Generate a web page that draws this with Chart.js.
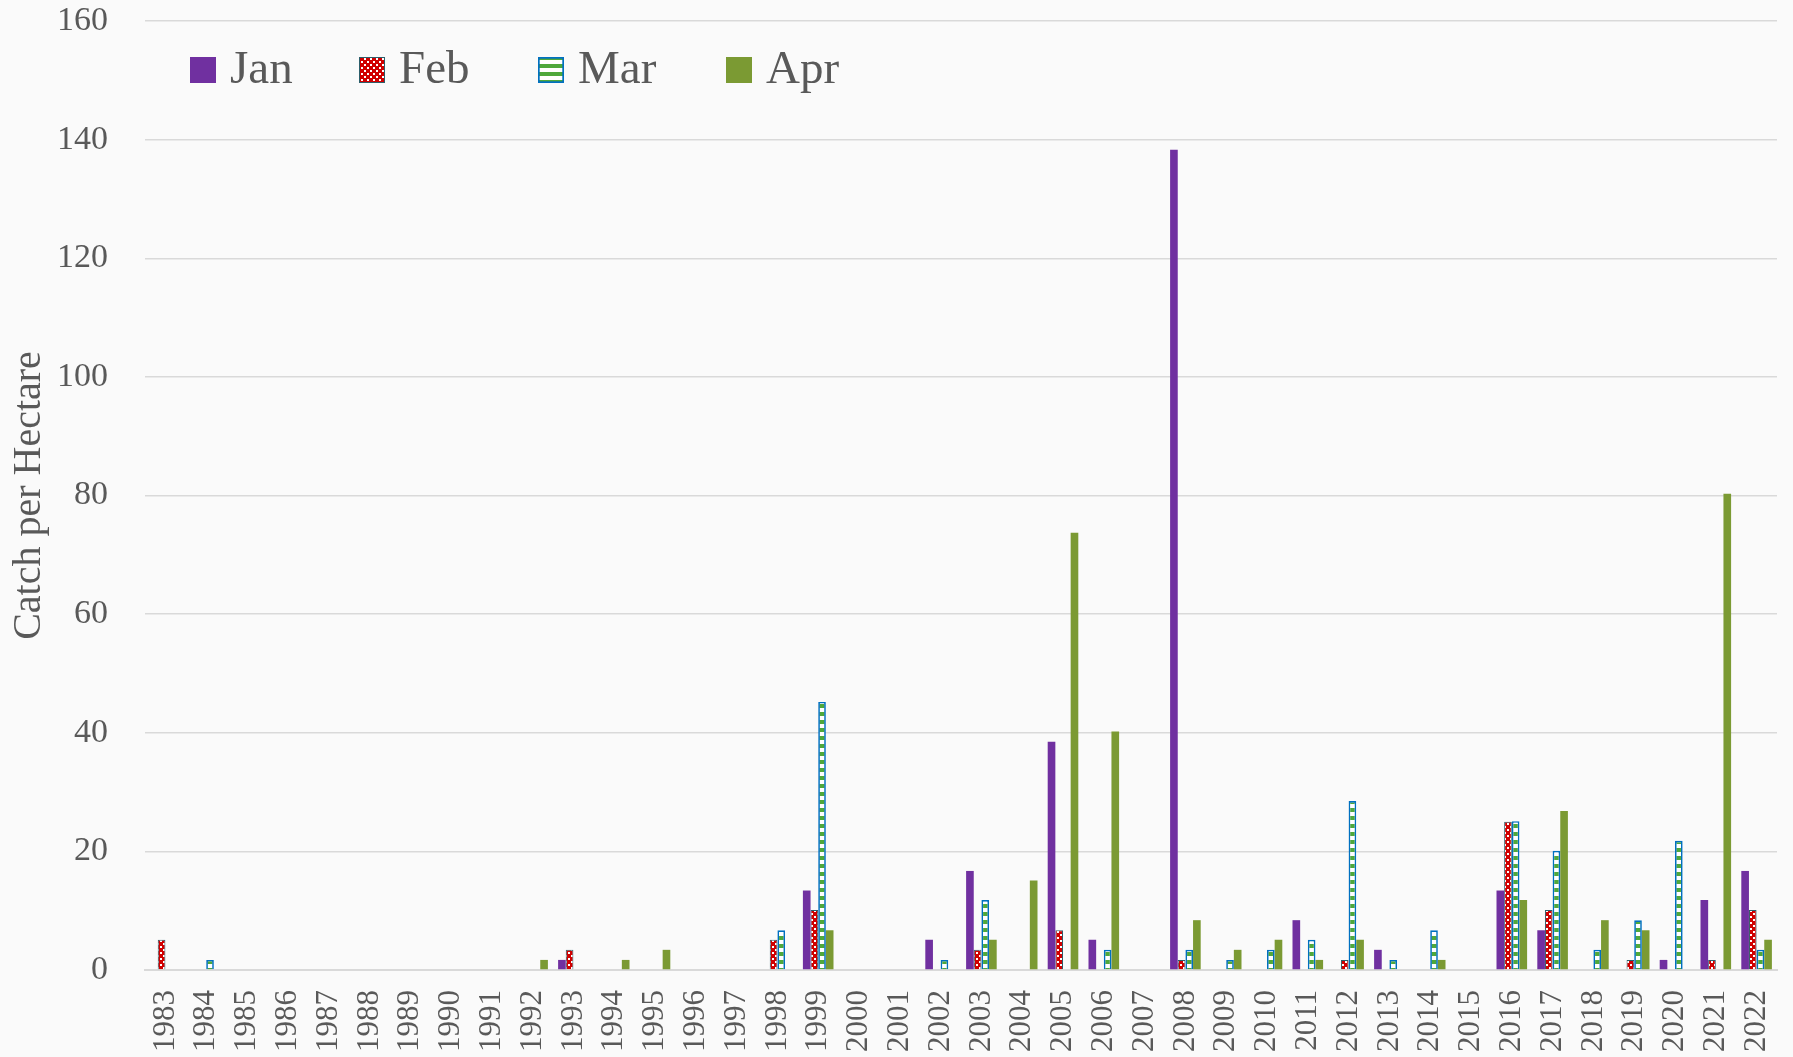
<!DOCTYPE html>
<html>
<head>
<meta charset="utf-8">
<script src="https://cdn.jsdelivr.net/npm/chart.js@4.4.0/dist/chart.umd.min.js"></script>
<style>
  html, body { margin: 0; padding: 0; background: #FAFAFA; }
  #wrap { width: 1793px; height: 1057px; }
</style>
</head>
<body>
<div id="wrap"><canvas id="c" width="1793" height="1057"></canvas></div>
<script>
const years = ['1983','1984','1985','1986','1987','1988','1989','1990','1991','1992',
               '1993','1994','1995','1996','1997','1998','1999','2000','2001','2002',
               '2003','2004','2005','2006','2007','2008','2009','2010','2011','2012',
               '2013','2014','2015','2016','2017','2018','2019','2020','2021','2022'];
const seriesNames = ['Jan', 'Feb', 'Mar', 'Apr'];
//            1983..1992                          1993..2002                              2003..2012                                2013..2022
const jan = [0,0,0,0,0,0,0,0,0,0,       1.7,0,0,0,0,0,13.4,0,0,5.1,     16.7,0,38.5,5.1,0,138.3,0,0,8.4,0,     3.4,0,0,13.4,6.7,0,0,1.7,11.8,16.7];
const feb = [5.1,0,0,0,0,0,0,0,0,0,     3.4,0,0,0,0,5.1,10.1,0,0,0,     3.4,0,6.7,0,0,1.7,0,0,0,1.7,           0,0,0,25.0,10.1,0,1.7,0,1.7,10.1];
const mar = [0,1.7,0,0,0,0,0,0,0,0,     0,0,0,0,0,6.7,45.2,0,0,1.7,     11.8,0,0,3.4,0,3.4,1.7,3.4,5.1,28.5,   1.7,6.7,0,25.1,20.1,3.4,8.4,21.8,0,3.4];
const apr = [0,0,0,0,0,0,0,0,0,1.7,     0,1.7,3.4,0,0,0,6.7,0,0,0,      5.1,15.1,73.7,40.2,0,8.4,3.4,5.1,1.7,5.1, 0,1.7,0,11.8,26.8,8.4,6.7,0,80.3,5.1];
const yTickValues = [0, 20, 40, 60, 80, 100, 120, 140, 160];
const yTitle = 'Catch per Hectare';

const FONT = "'Liberation Serif', 'DejaVu Serif', serif";
const TEXT = '#595959';
const GRID = '#D9D9D9';

const canvas = document.getElementById('c');
const ctx = canvas.getContext('2d');

function febPattern() {
  const t = document.createElement('canvas');
  t.width = 6; t.height = 6;
  const g = t.getContext('2d');
  g.fillStyle = '#D00000'; g.fillRect(0, 0, 6, 6);
  g.fillStyle = '#FFFFFF';
  g.fillRect(1, 1, 2, 2);
  g.fillRect(4, 4, 2, 2);
  return ctx.createPattern(t, 'repeat');
}
function marPattern() {
  const t = document.createElement('canvas');
  t.width = 8; t.height = 8;
  const g = t.getContext('2d');
  g.fillStyle = '#FFFFFF'; g.fillRect(0, 0, 8, 8);
  g.fillStyle = '#4FA83B'; g.fillRect(0, 0, 8, 4);
  return ctx.createPattern(t, 'repeat');
}

const febFill = febPattern();
const marFill = marPattern();

const styles = [
  { backgroundColor: '#7030A0', borderColor: '#7030A0', borderWidth: 0 },
  { backgroundColor: febFill, borderColor: '#2C5E6B', borderWidth: 1 },
  { backgroundColor: marFill, borderColor: '#0070C0', borderWidth: 1.7 },
  { backgroundColor: '#7B9A33', borderColor: '#7B9A33', borderWidth: 0 }
];
const values = [jan, feb, mar, apr];

const legendPlugin = {
  id: 'insideLegend',
  afterDraw(chart) {
    const c = chart.ctx;
    const boxLefts = [190, 359, 538, 726];
    const boxTop = 57, box = 26, baseline = 83;
    c.save();
    c.font = "47px " + FONT;
    c.textBaseline = 'alphabetic';
    c.textAlign = 'left';
    chart.data.datasets.forEach((ds, i) => {
      const x = boxLefts[i];
      c.fillStyle = ds.backgroundColor;
      c.fillRect(x, boxTop, box, box);
      if (ds.borderWidth > 0) {
        c.strokeStyle = ds.borderColor;
        c.lineWidth = ds.borderWidth;
        c.strokeRect(x + ds.borderWidth / 2, boxTop + ds.borderWidth / 2, box - ds.borderWidth, box - ds.borderWidth);
      }
      c.fillStyle = TEXT;
      c.fillText(ds.label, x + 40, baseline);
    });
    c.restore();
  }
};

const bgPlugin = {
  id: 'bg',
  beforeDraw(chart) {
    const c = chart.ctx;
    c.save();
    c.fillStyle = '#FAFAFA';
    c.fillRect(0, 0, chart.width, chart.height);
    c.restore();
  }
};

new Chart(ctx, {
  type: 'bar',
  data: {
    labels: years,
    datasets: seriesNames.map((name, i) => Object.assign({ label: name, data: values[i] }, styles[i]))
  },
  options: {
    responsive: false,
    animation: false,
    devicePixelRatio: 1,
    layout: { padding: { top: 21, right: 16, left: 0, bottom: 0 } },
    datasets: { bar: { categoryPercentage: 0.75, barPercentage: 1.0 } },
    plugins: {
      legend: { display: false },
      tooltip: { enabled: false },
      title: { display: false }
    },
    scales: {
      x: {
        grid: { display: false, drawTicks: false },
        border: { display: true, color: GRID, width: 2 },
        ticks: {
          font: { family: FONT, size: 31 },
          color: TEXT,
          minRotation: 90,
          maxRotation: 90,
          autoSkip: false,
          padding: 20
        },
        afterFit(scale) {
          scale.height = 87;
          scale.paddingLeft = 0; scale.paddingRight = 0;
          scale.paddingTop = 0; scale.paddingBottom = 0;
        }
      },
      y: {
        min: 0,
        max: 160,
        afterBuildTicks(scale) { scale.ticks = yTickValues.map(v => ({ value: v })); },
        ticks: {
          font: { family: FONT, size: 34 },
          color: TEXT,
          padding: 37
        },
        grid: { color: GRID, lineWidth: 1.5, drawTicks: false },
        border: { display: false },
        title: {
          display: true,
          text: yTitle,
          font: { family: FONT, size: 40 },
          color: TEXT,
          padding: { top: 5, bottom: 0 }
        },
        afterFit(scale) {
          scale.width = 145;
          scale.paddingTop = 0; scale.paddingBottom = 0;
          scale.paddingLeft = 0; scale.paddingRight = 0;
        }
      }
    }
  },
  plugins: [bgPlugin, legendPlugin]
});
</script>
</body>
</html>
